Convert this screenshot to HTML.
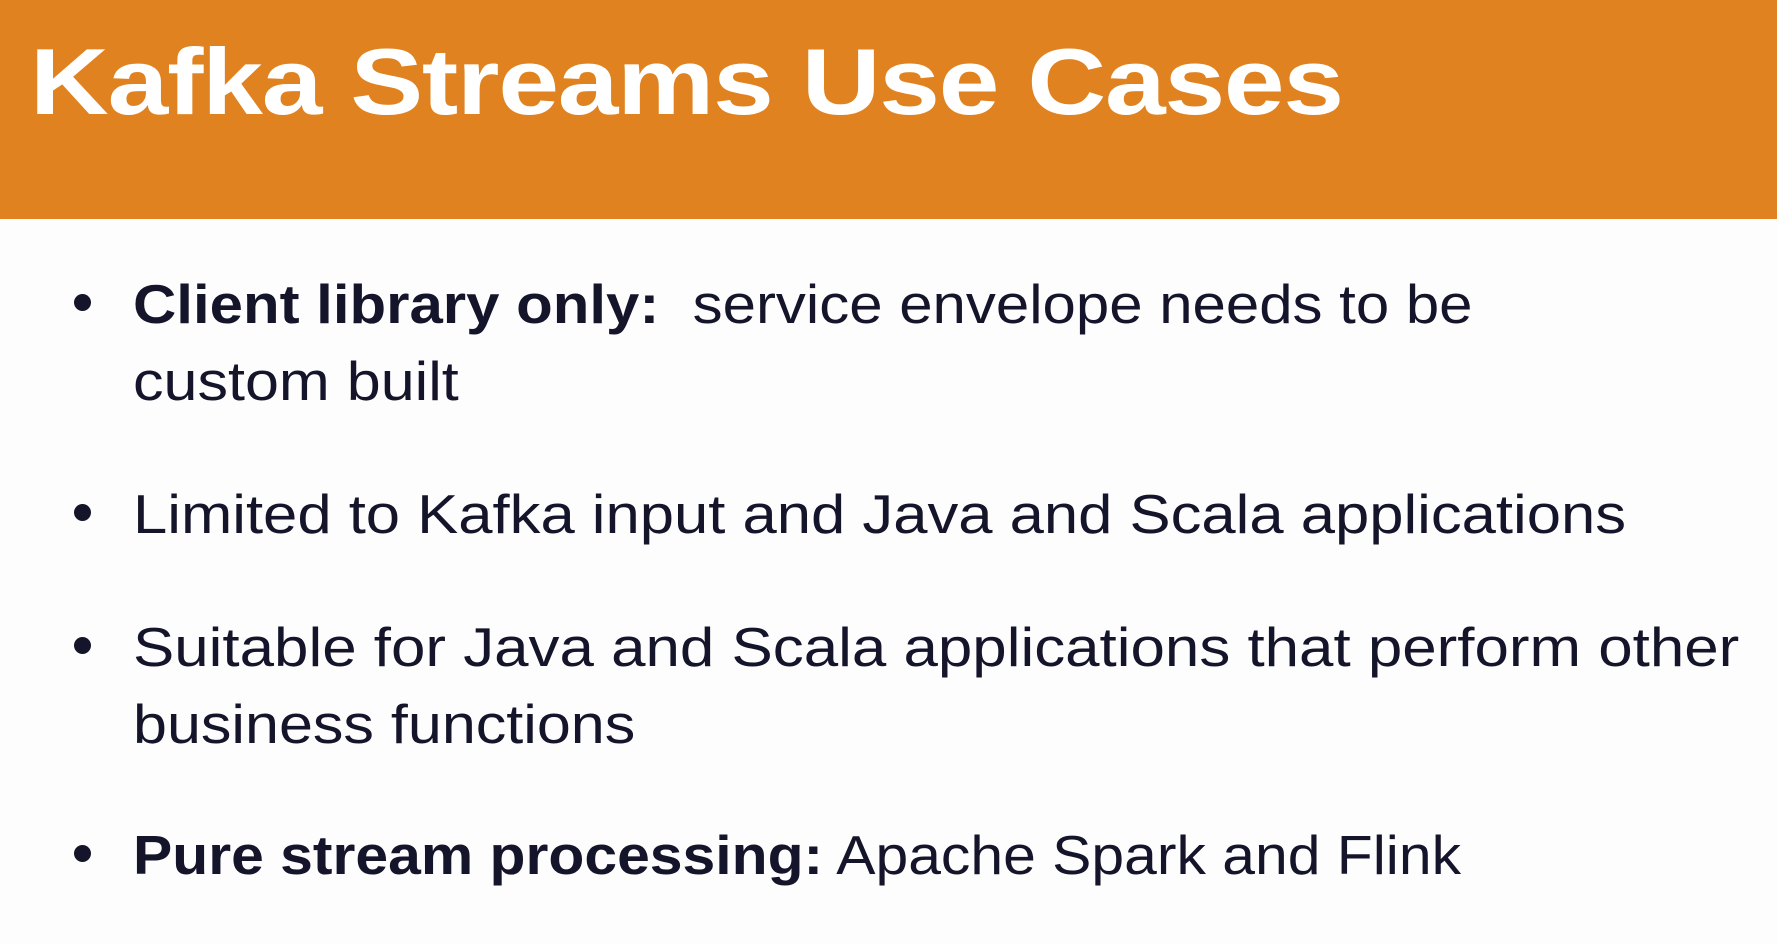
<!DOCTYPE html>
<html><head><meta charset="utf-8"><style>
html,body{margin:0;padding:0;width:1777px;height:944px;background:#fdfdfd;overflow:hidden;font-family:"Liberation Sans",sans-serif;}
.hdr{position:absolute;left:0;top:0;width:1777px;height:219px;background:#e0821f;}
.title{position:absolute;left:30px;top:28px;font-size:94px;font-weight:bold;color:#fff;white-space:nowrap;letter-spacing:-1px;transform:scaleX(1.16);transform-origin:left top}
.l{position:absolute;left:133px;font-size:55px;color:#14142a;white-space:nowrap;line-height:1;transform:scaleX(1.11);transform-origin:left top}
.d{position:absolute;left:74px;width:17px;height:17px;border-radius:50%;background:#14142a}
b{font-weight:bold}
</style></head><body>
<div class="hdr"></div>
<div class="title">Kafka Streams Use Cases</div>
<div class="d" style="top:294px"></div>
<div class="l" style="top:277px;transform:scaleX(1.09)"><b>Client library only:</b>&nbsp; service envelope needs to be</div>
<div class="l" style="top:354px">custom built</div>
<div class="d" style="top:504px"></div>
<div class="l" style="top:487px;transform:scaleX(1.12)">Limited to Kafka input and Java and Scala applications</div>
<div class="d" style="top:637px"></div>
<div class="l" style="top:620px;transform:scaleX(1.125)">Suitable for Java and Scala applications that perform other</div>
<div class="l" style="top:697px">business functions</div>
<div class="d" style="top:845px"></div>
<div class="l" style="top:828px;transform:scaleX(1.07)"><b>Pure stream processing:</b> Apache Spark and Flink</div>
</body></html>
